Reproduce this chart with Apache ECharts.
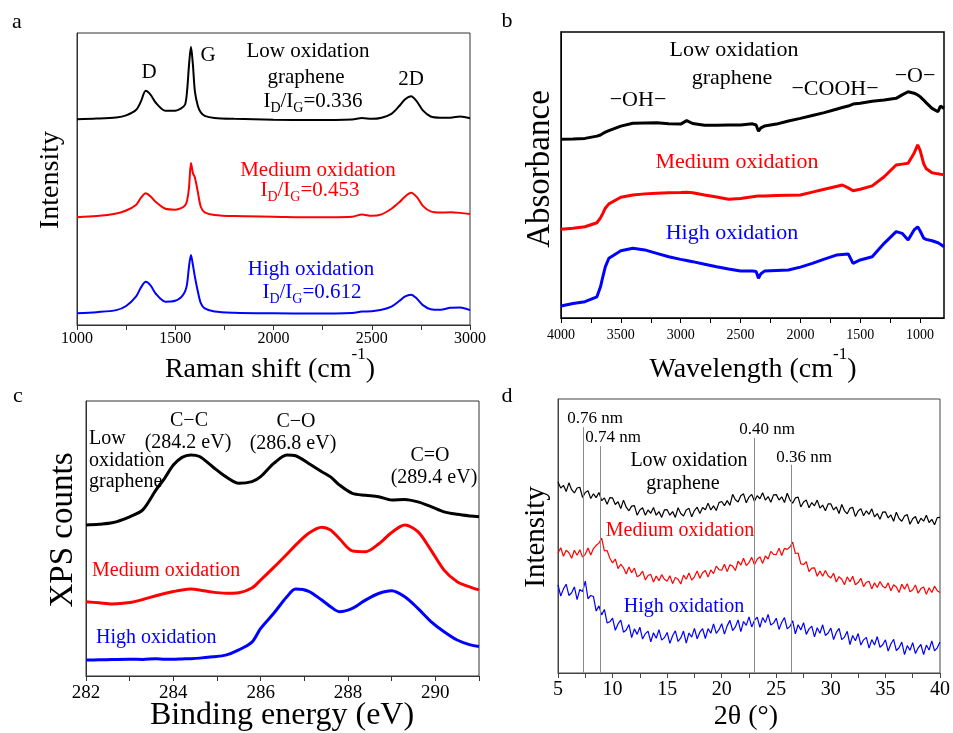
<!DOCTYPE html>
<html>
<head>
<meta charset="utf-8">
<script src="https://cdn.jsdelivr.net/npm/echarts@6/dist/echarts.min.js"></script>
<style>
  html, body { margin: 0; padding: 0; background: #fff; }
  #chart { width: 953px; height: 733px; }
</style>
</head>
<body>
<div id="chart"></div>
<script>
// ---------- (a) Raman spectra ----------
const ramanShift = [1000, 1100, 1200, 1250, 1300, 1325, 1350, 1375, 1400, 1450, 1500, 1530, 1550, 1560, 1570, 1580, 1590, 1600, 1615, 1630, 1650, 1700, 1800, 2000, 2200, 2400, 2450, 2500, 2550, 2600, 2640, 2670, 2700, 2730, 2760, 2800, 2850, 2900, 2950, 3000];
const ramanLow = [70.5, 70.7, 71.1, 71.8, 73.6, 76.5, 80.2, 78.8, 76.2, 73.4, 73.4, 74.2, 75.5, 80.0, 89.0, 95.3, 89.0, 80.0, 75.0, 72.8, 71.6, 70.9, 70.6, 70.3, 70.2, 70.4, 70.9, 70.6, 71.0, 72.3, 75.0, 77.3, 78.3, 76.5, 73.5, 71.4, 71.0, 71.0, 71.4, 70.8];
const ramanMedium = [36.9, 37.3, 38.2, 39.2, 41.1, 43.5, 45.1, 44.0, 42.2, 39.8, 39.5, 40.0, 41.0, 42.5, 47.0, 55.5, 52.0, 50.5, 45.5, 40.5, 38.6, 37.7, 37.3, 37.1, 36.9, 37.1, 37.8, 37.4, 37.9, 39.8, 42.0, 44.0, 45.3, 43.8, 40.8, 38.9, 38.5, 38.6, 38.4, 38.0];
const ramanHigh = [4.0, 4.4, 5.1, 6.5, 9.7, 12.8, 14.8, 13.5, 10.8, 8.0, 8.3, 9.5, 11.5, 14.0, 20.0, 24.0, 20.5, 16.5, 11.5, 7.5, 5.7, 4.6, 4.2, 4.0, 3.9, 4.1, 4.6, 4.7, 5.2, 6.3, 8.2, 9.8, 10.4, 9.0, 6.8, 5.4, 5.2, 5.9, 6.0, 5.1];
const ramanTicks = [1000, 1250, 1500, 1750, 2000, 2250, 2500, 2750, 3000];
const ramanLabels = [1000, 1500, 2000, 2500, 3000];
const ramanRatios = ['0.336', '0.453', '0.612'];

// ---------- (b) FTIR spectra ----------
const ftirWavenumber = [4000, 3900, 3800, 3700, 3670, 3650, 3630, 3600, 3500, 3400, 3300, 3200, 3100, 3000, 2950, 2900, 2800, 2700, 2600, 2500, 2400, 2370, 2350, 2330, 2300, 2200, 2100, 2000, 1900, 1800, 1700, 1650, 1600, 1560, 1550, 1500, 1400, 1300, 1200, 1150, 1100, 1050, 1020, 1000, 970, 950, 900, 850, 830, 800];
const ftirLow = [62.5, 62.6, 62.8, 63.6, 64.0, 64.5, 65.0, 65.5, 67.1, 68.1,
  68.2, 68.3, 67.9, 67.8, 69.0, 68.0, 67.4, 67.4, 67.5, 67.5,
  67.9, 67.5, 65.3, 66.5, 67.1, 67.8, 68.9, 69.8, 70.8, 71.8,
  73.0, 73.6, 74.1, 74.8, 74.5, 75.1, 75.8, 76.2, 76.8, 78.0,
  79.1, 78.6, 78.0, 77.4, 76.2, 75.3, 73.3, 72.1, 74.1, 73.3];
const ftirMedium = [31.0, 31.4, 31.9, 33.3, 35.0, 36.6, 38.4, 39.9, 42.2, 43.0,
  43.4, 43.6, 43.8, 43.9, 44.0, 43.8, 43.0, 42.3, 41.5, 41.8,
  42.4, 42.6, 42.7, 42.7, 42.7, 42.8, 42.9, 43.0, 44.0, 45.0,
  46.0, 46.5, 45.5, 44.5, 44.5, 45.0, 46.2, 49.4, 53.5, 53.8,
  54.1, 57.6, 60.5, 58.7, 54.0, 52.3, 50.8, 50.4, 50.3, 50.2];
const ftirHigh = [4.2, 5.1, 5.7, 7.4, 10.9, 14.5, 17.9, 20.9, 23.5, 24.4,
  23.8, 22.6, 21.4, 20.5, 20.1, 19.7, 18.8, 17.9, 17.1, 16.4,
  16.4, 16.3, 13.9, 15.5, 16.4, 16.6, 16.8, 17.8, 19.1, 20.6,
  22.0, 22.2, 22.4, 19.1, 19.6, 20.3, 21.4, 26.1, 30.2, 29.6,
  27.3, 30.8, 31.9, 30.5, 27.9, 27.5, 27.0, 26.3, 25.8, 24.9];
const ftirTicks = [1000, 1250, 1500, 1750, 2000, 2250, 2500, 2750, 3000, 3250, 3500, 3750, 4000];
const ftirLabels = [1000, 1500, 2000, 2500, 3000, 3500, 4000];

// ---------- (c) XPS C1s spectra ----------
const xpsEnergy = [282, 282.3, 282.6, 283, 283.3, 283.6, 283.8, 284, 284.2, 284.4, 284.6, 284.9, 285.2, 285.5, 285.8, 286, 286.3, 286.6, 286.8, 287.1, 287.4, 287.6, 287.8, 288.1, 288.4, 288.7, 289, 289.3, 289.6, 289.9, 290.2, 290.5, 290.8, 291];
const xpsLow = [54.9, 55.2, 55.7, 57.9, 60.4, 67.6, 71.9, 76.7, 79.5, 80.4, 79.8, 76.1, 72.5, 70.1, 70.7, 72.5, 77.3, 80.4, 80.1, 77.3, 74.3, 72.4, 69.5, 66.4, 65.7, 65.2, 64.0, 64.2, 63.3, 61.6, 59.7, 58.8, 58.2, 57.9];
const xpsMedium = [27.0, 26.6, 26.2, 26.7, 27.8, 29.2, 30.0, 30.7, 31.3, 31.6, 31.3, 30.5, 30.1, 30.3, 32.0, 34.9, 39.5, 44.3, 47.6, 51.9, 54.1, 53.1, 50.0, 45.5, 45.2, 48.0, 52.2, 54.9, 52.5, 45.8, 38.5, 34.3, 32.3, 31.3];
const xpsHigh = [5.8, 5.9, 6.0, 6.1, 6.0, 6.3, 6.1, 6.1, 6.2, 6.3, 6.5, 7.0, 7.6, 9.5, 12.3, 17.3, 22.8, 28.8, 31.6, 30.8, 27.6, 25.2, 23.4, 24.6, 27.6, 30.0, 31.0, 28.8, 24.6, 19.8, 16.1, 13.1, 11.3, 10.7];
const xpsTicks = [282, 283, 284, 285, 286, 287, 288, 289, 290, 291];
const xpsLabels = [282, 284, 286, 288, 290];

// ---------- (d) XRD patterns, 2θ from 5° in 0.25° steps ----------
const xrdStart = 5, xrdStep = 0.25;
const xrdLow = [69.7, 67.5, 68.5, 66.2, 69.4, 66.9, 65.7, 67.5, 67.8, 64.1,
  65.9, 66.5, 63.7, 65.4, 64.0, 65.9, 62.9, 63.9, 61.6, 64.0,
  63.9, 61.5, 62.5, 60.0, 63.1, 60.5, 59.2, 60.9, 61.1, 57.6,
  59.5, 60.3, 57.6, 59.5, 58.3, 60.4, 57.6, 58.9, 56.8, 59.5,
  59.6, 57.6, 58.9, 56.8, 60.3, 58.2, 57.3, 59.5, 60.1, 57.0,
  59.3, 60.5, 58.2, 60.4, 59.6, 62.0, 59.5, 61.0, 59.3, 62.2,
  62.6, 61.1, 62.9, 61.2, 65.2, 63.2, 62.4, 64.7, 65.4, 62.1,
  64.2, 65.2, 62.7, 64.7, 63.6, 65.8, 63.1, 64.4, 62.3, 65.0,
  65.1, 63.1, 64.3, 62.2, 65.6, 63.2, 62.0, 63.9, 64.2, 60.6,
  62.4, 63.1, 60.3, 62.2, 61.0, 63.1, 60.2, 61.3, 59.2, 61.7,
  61.7, 59.5, 60.6, 58.2, 61.5, 59.2, 58.1, 60.1, 60.5, 57.1,
  59.1, 60.0, 57.4, 59.2, 57.9, 59.9, 57.0, 58.2, 56.1, 58.7,
  58.8, 56.6, 57.7, 55.4, 58.7, 56.4, 55.4, 57.3, 57.8, 54.3,
  56.3, 57.1, 54.5, 56.5, 55.4, 57.6, 54.9, 56.1, 54.1, 56.7,
  56.8];
const xrdMedium = [43.8, 45.7, 42.6, 44.8, 43.9, 41.9, 44.8, 43.0, 45.0, 42.3,
  43.3, 45.6, 43.1, 45.4, 46.6, 47.4, 49.2, 44.6, 44.7, 41.9,
  40.2, 41.6, 38.1, 39.7, 38.4, 36.1, 38.7, 36.6, 38.3, 35.1,
  35.7, 37.2, 34.0, 35.6, 36.0, 33.2, 35.4, 33.7, 35.9, 34.2,
  33.5, 35.5, 32.6, 34.9, 34.2, 32.5, 35.7, 34.2, 36.5, 33.9,
  35.1, 37.2, 34.6, 36.6, 37.4, 35.0, 37.6, 36.3, 39.0, 37.7,
  37.5, 39.7, 37.0, 39.5, 39.0, 37.4, 40.8, 39.4, 41.9, 39.2,
  40.3, 42.2, 39.5, 41.5, 42.4, 40.0, 42.7, 41.6, 44.4, 43.3,
  43.2, 45.5, 42.9, 45.5, 45.1, 46.0, 47.8, 43.6, 43.8, 39.8,
  39.6, 40.6, 37.0, 38.3, 38.4, 35.3, 37.2, 35.3, 37.4, 35.5,
  34.7, 36.4, 33.2, 35.2, 34.2, 32.2, 35.1, 33.3, 35.3, 32.2,
  33.0, 34.6, 31.5, 33.1, 33.5, 30.7, 32.9, 31.2, 33.4, 31.7,
  31.0, 32.9, 30.0, 32.2, 31.4, 29.4, 32.4, 30.6, 32.6, 29.6,
  30.4, 32.1, 29.1, 30.8, 31.4, 28.7, 31.1, 29.4, 31.7, 30.0,
  29.4];
const xrdHigh = [32.2, 28.1, 30.7, 32.4, 28.3, 29.3, 31.4, 26.8, 30.5, 29.7,
  33.5, 27.1, 28.3, 27.9, 22.6, 24.5, 21.2, 23.2, 18.3, 18.7,
  20.0, 15.6, 17.9, 19.3, 14.9, 15.7, 17.7, 12.9, 16.1, 14.1,
  16.7, 12.4, 14.3, 15.3, 11.4, 14.7, 12.7, 15.8, 12.0, 12.9,
  14.8, 10.8, 13.6, 15.4, 11.5, 12.8, 15.3, 10.9, 14.6, 13.1,
  16.3, 12.5, 14.9, 16.2, 12.6, 16.2, 14.5, 17.9, 14.5, 15.8,
  18.0, 14.2, 17.2, 19.2, 15.5, 16.8, 19.4, 15.1, 18.8, 17.4,
  20.5, 16.8, 19.2, 20.4, 16.7, 20.2, 18.4, 21.4, 17.5, 18.2,
  20.0, 15.9, 18.5, 20.2, 16.1, 17.0, 19.1, 14.3, 17.6, 15.7,
  18.4, 14.1, 16.1, 17.1, 13.2, 16.5, 14.5, 17.6, 13.7, 14.6,
  16.4, 12.2, 14.8, 16.3, 12.2, 13.1, 15.2, 10.4, 13.7, 11.8,
  14.4, 10.2, 12.1, 13.0, 9.1, 12.2, 10.2, 13.3, 9.4, 10.3,
  12.1, 8.0, 10.6, 12.3, 8.2, 9.2, 11.3, 6.7, 10.0, 8.3,
  11.1, 7.1, 9.2, 10.4, 6.7, 10.2, 8.4, 11.7, 8.1, 9.2,
  11.3];
const xrdRefAngles = [7.34, 8.86, 22.99, 26.39];
const xrdRefTops = [89.7, 82.8, 85.8, 76.0];
const xrdRefNames = ['0.76 nm', '0.74 nm', '0.40 nm', '0.36 nm'];
const xrdTicks = [5, 7.5, 10, 12.5, 15, 17.5, 20, 22.5, 25, 27.5, 30, 32.5, 35, 37.5, 40];
const xrdLabels = [5, 10, 15, 20, 25, 30, 35, 40];

const sampleNames = ['Low oxidation graphene', 'Medium oxidation', 'High oxidation'];

// ---------- helpers ----------
const SERIF = '"Liberation Serif", "Times New Roman", serif';
const BLACK = '#000000', RED = '#ff0000', BLUE = '#0000ff';

function zip(xs, ys) { return ys.map((y, i) => [xs[i], y]); }
function xrdPairs(values) { return values.map((v, i) => [xrdStart + i * xrdStep, v]); }

function xAxisFor(gridIndex, min, max, ticks, labels, fontSize, margin, frameColor, inverse) {
  return {
    type: 'value', gridIndex, min, max, inverse: !!inverse,
    axisLine: { show: true, onZero: false, lineStyle: { color: frameColor, width: 1 } },
    axisTick: { show: true, inside: false, length: 5, customValues: ticks, lineStyle: { color: frameColor, width: 1 } },
    axisLabel: { customValues: labels, fontFamily: SERIF, fontSize, color: '#000', margin,
                 formatter: (v) => String(v) },
    splitLine: { show: false }
  };
}
function yAxisFor(gridIndex, frameColor) {
  return {
    type: 'value', gridIndex, min: 0, max: 100,
    axisLine: { show: true, lineStyle: { color: frameColor, width: 1 } },
    axisTick: { show: false }, axisLabel: { show: false }, splitLine: { show: false }
  };
}
function lineSeries(idx, data, color, width, smooth) {
  return {
    type: 'line', xAxisIndex: idx, yAxisIndex: idx, data, showSymbol: false,
    smooth: smooth || false, lineStyle: { color, width }, itemStyle: { color },
    silent: true, animation: false
  };
}
function text(x, y, str, size, color, align) {
  return {
    type: 'text', x, y, silent: true,
    style: { text: str, fontFamily: SERIF, fontSize: size, fill: color || '#000',
             align: align || 'center', verticalAlign: 'middle' }
  };
}
function vtext(x, y, str, size) {
  const t = text(x, y, str, size, '#000');
  t.rotation = Math.PI / 2;
  return t;
}
function ratioText(x, y, value, color) {
  return {
    type: 'text', x, y: y - 10.5, silent: true,
    style: {
      text: '{m|I}{s|D}{m|/I}{s|G}{m|=' + value + '}',
      align: 'center', verticalAlign: 'top', fill: color,
      rich: {
        m: { fontFamily: SERIF, fontSize: 21, lineHeight: 21, verticalAlign: 'top', fill: color },
        s: { fontFamily: SERIF, fontSize: 14, lineHeight: 14, padding: [11, 0, 0, 0], verticalAlign: 'top', fill: color }
      }
    }
  };
}
function supTitle(x, y, main, sup, after, size) {
  const lh = size + 10;
  return {
    type: 'text', x, y, silent: true,
    style: {
      text: '{m|' + main + '}{p|' + sup + '}{m|' + after + '}',
      align: 'center', verticalAlign: 'middle', fill: '#000',
      rich: {
        m: { fontFamily: SERIF, fontSize: size, lineHeight: lh, verticalAlign: 'bottom', fill: '#000' },
        p: { fontFamily: SERIF, fontSize: Math.round(size * 0.6), lineHeight: Math.round(size * 0.6), verticalAlign: 'top', fill: '#000' }
      }
    }
  };
}

// ---------- chart ----------
const FRAME_A = '#333333', FRAME_B = '#000000', FRAME_C = '#333333', FRAME_D = '#444444';

const xrdMarkLine = {
  symbol: 'none', silent: true, animation: false,
  label: { show: false },
  lineStyle: { color: '#8a8a8a', width: 1, type: 'solid' },
  data: xrdRefAngles.map((a, i) => [{ coord: [a, 0] }, { coord: [a, xrdRefTops[i]] }])
};

const xrdLowSeries = lineSeries(3, xrdPairs(xrdLow), BLACK, 1.2);
xrdLowSeries.markLine = xrdMarkLine;

const graphics = [
  // panel letters
  text(17, 22, 'a', 22), text(507, 21, 'b', 22), text(18, 396, 'c', 22), text(507, 396, 'd', 22),

  // (a)
  text(149, 72, 'D', 21), text(208, 55, 'G', 21), text(411, 79, '2D', 21),
  text(308, 51, 'Low oxidation', 21), text(306, 77, 'graphene', 21),
  ratioText(313, 101, ramanRatios[0], BLACK),
  text(318, 170, sampleNames[1], 21, RED),
  ratioText(310, 190, ramanRatios[1], RED),
  text(311, 269, sampleNames[2], 21, BLUE),
  ratioText(312, 292, ramanRatios[2], BLUE),
  vtext(51, 180, 'Intensity', 28),
  supTitle(270, 365, 'Raman shift (cm', '-1', ')', 28),

  // (b)
  text(734, 50, 'Low oxidation', 22), text(732, 78, 'graphene', 22),
  text(638, 100, '\u2212OH\u2212', 22), text(835, 89, '\u2212COOH\u2212', 22), text(915, 76, '\u2212O\u2212', 22),
  text(737, 162, sampleNames[1], 22, RED),
  text(732, 233, sampleNames[2], 22, BLUE),
  vtext(540, 169, 'Absorbance', 33),
  supTitle(753, 365, 'Wavelength (cm', '-1', ')', 28),

  // (c)
  text(189, 421, 'C\u2212C', 20), text(188, 443, '(284.2 eV)', 20),
  text(296, 422, 'C\u2212O', 20), text(293, 444, '(286.8 eV)', 20),
  text(430, 456, 'C=O', 20), text(434, 478, '(289.4 eV)', 20),
  text(89, 439, 'Low', 20, BLACK, 'left'), text(89, 461, 'oxidation', 20, BLACK, 'left'), text(89, 482, 'graphene', 20, BLACK, 'left'),
  text(92, 571, sampleNames[1], 20, RED, 'left'),
  text(96, 638, sampleNames[2], 20, BLUE, 'left'),
  vtext(63, 530, 'XPS counts', 33),
  text(282, 716, 'Binding energy (eV)', 32),

  // (d)
  text(595, 419, xrdRefNames[0], 17), text(613, 438, xrdRefNames[1], 17),
  text(767, 430, xrdRefNames[2], 17), text(804, 458, xrdRefNames[3], 17),
  text(689, 461, 'Low oxidation', 20), text(683, 484, 'graphene', 20),
  text(680, 531, sampleNames[1], 20, RED),
  text(684, 607, sampleNames[2], 20, BLUE),
  vtext(536, 537, 'Intensity', 29),
  text(746, 717, '2\u03b8 (\u00b0)', 28)
];

const option = {
  backgroundColor: '#ffffff',
  animation: false,
  grid: [
    { left: 77, top: 33, width: 393, height: 292, show: true, borderColor: FRAME_A, borderWidth: 1, backgroundColor: 'transparent' },
    { left: 561, top: 32, width: 383, height: 286, show: true, borderColor: FRAME_B, borderWidth: 1.5, backgroundColor: 'transparent' },
    { left: 86, top: 401, width: 393, height: 275, show: true, borderColor: FRAME_C, borderWidth: 1, backgroundColor: 'transparent' },
    { left: 558, top: 399, width: 384, height: 274, show: true, borderColor: FRAME_D, borderWidth: 1, backgroundColor: 'transparent' }
  ],
  xAxis: [
    xAxisFor(0, 1000, 3000, ramanTicks, ramanLabels, 16, 6, FRAME_A),
    xAxisFor(1, 800, 4000, ftirTicks, ftirLabels, 14, 10, FRAME_B, true),
    xAxisFor(2, 282, 291, xpsTicks, xpsLabels, 19, 8, FRAME_C),
    xAxisFor(3, 5, 40, xrdTicks, xrdLabels, 20, 7, FRAME_D)
  ],
  yAxis: [yAxisFor(0, FRAME_A), yAxisFor(1, FRAME_B), yAxisFor(2, FRAME_C), yAxisFor(3, FRAME_D)],
  series: [
    lineSeries(0, zip(ramanShift, ramanLow), BLACK, 2, 0.3),
    lineSeries(0, zip(ramanShift, ramanMedium), RED, 2, 0.3),
    lineSeries(0, zip(ramanShift, ramanHigh), BLUE, 2, 0.3),

    lineSeries(1, zip(ftirWavenumber, ftirLow), BLACK, 3),
    lineSeries(1, zip(ftirWavenumber, ftirMedium), RED, 3),
    lineSeries(1, zip(ftirWavenumber, ftirHigh), BLUE, 3),

    lineSeries(2, zip(xpsEnergy, xpsLow), BLACK, 3, 0.3),
    lineSeries(2, zip(xpsEnergy, xpsMedium), RED, 3, 0.3),
    lineSeries(2, zip(xpsEnergy, xpsHigh), BLUE, 3, 0.3),

    xrdLowSeries,
    lineSeries(3, xrdPairs(xrdMedium), RED, 1.2),
    lineSeries(3, xrdPairs(xrdHigh), BLUE, 1.2)
  ],
  graphic: { elements: graphics }
};

const chart = echarts.init(document.getElementById('chart'), null, { renderer: 'canvas' });
chart.setOption(option);
</script>
</body>
</html>
